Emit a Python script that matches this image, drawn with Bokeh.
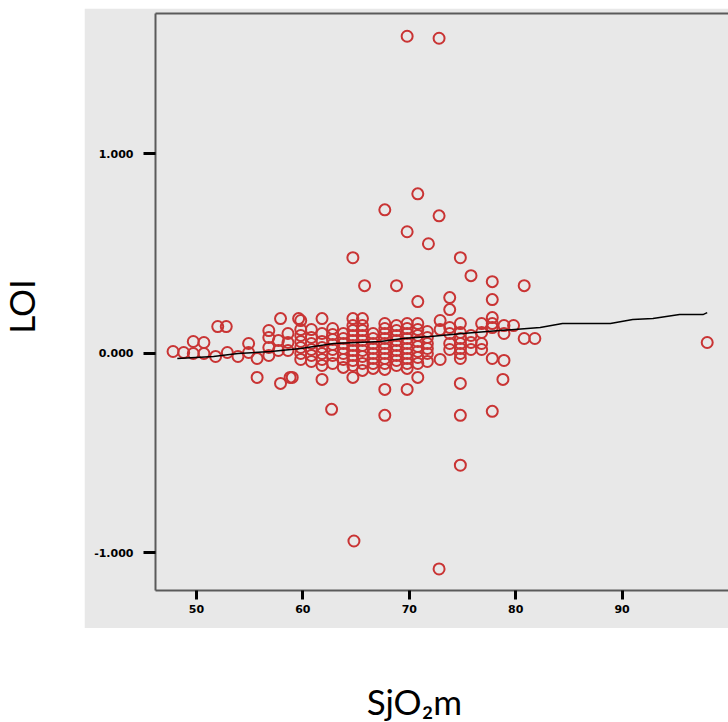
from bokeh.plotting import figure
from bokeh.layouts import row, column
from bokeh.models import Range1d, FixedTicker, LinearAxis, Label
from bokeh.embed import file_html
from bokeh.resources import INLINE
import math

# ---- data ----
sio2 = [
    # left side
    47.8, 48.8, 49.7, 49.7, 50.7, 50.7, 52.0, 52.8, 51.8, 52.9, 53.9, 54.9, 54.9,
    55.7, 55.7, 56.8, 56.8, 56.8, 56.8, 57.9, 57.9, 58.8, 57.7, 57.7, 58.6, 58.6, 58.6,
    59.6,
    # dense band
    59.8, 59.8, 59.8, 59.8, 59.8, 59.8, 59.8,
    60.8, 60.8, 60.8, 60.8, 60.8, 60.8,
    61.8, 61.8, 61.8, 61.8, 61.8, 61.8, 61.8,
    62.8, 62.8, 62.8, 62.8, 62.8, 62.8, 62.8,
    63.8, 63.8, 63.8, 63.8, 63.8, 63.8, 63.8,
    64.7, 64.7, 64.7, 64.7, 64.7, 64.7, 64.7, 64.7, 64.7, 64.7,
    65.6, 65.6, 65.6, 65.6, 65.6, 65.6, 65.6, 65.6, 65.6, 65.6,
    66.6, 66.6, 66.6, 66.6, 66.6, 66.6, 66.6, 66.6,
    67.7, 67.7, 67.7, 67.7, 67.7, 67.7, 67.7, 67.7, 67.7, 67.7,
    68.8, 68.8, 68.8, 68.8, 68.8, 68.8, 68.8, 68.8, 68.8,
    69.8, 69.8, 69.8, 69.8, 69.8, 69.8, 69.8, 69.8, 69.8, 69.8,
    70.8, 70.8, 70.8, 70.8, 70.8, 70.8, 70.8, 70.8,
    71.7, 71.7, 71.7, 71.7, 71.7, 71.7,
    # right cluster
    72.9, 72.9, 72.9, 73.8, 73.8, 73.8, 73.8,
    74.8, 74.8, 74.8, 74.8, 74.8, 74.8, 74.8,
    75.8, 75.8, 75.8, 76.8, 76.8, 76.8, 76.8,
    77.8, 77.8, 77.8, 77.8, 78.9, 78.9, 78.9,
    79.8, 80.8, 81.8,
    # high outliers
    69.8, 72.8, 70.8, 67.7, 72.8, 69.8, 71.8, 64.7, 74.8, 75.8, 65.8, 68.8,
    77.8, 80.8, 73.8, 70.8, 77.8, 73.8,
    # low outliers
    64.8, 72.8, 74.8, 62.7, 67.7, 74.8, 77.8, 67.7, 69.8, 74.8, 78.8, 61.8,
    64.7, 70.8, 59.0,
    # far right
    98.0,
]

loi = [
    0.01, 0.005, 0.06, 0.0, 0.055, 0.0, 0.135, 0.135, -0.015, 0.005, -0.015, 0.05, 0.005,
    -0.025, -0.12, 0.115, 0.08, 0.03, -0.01, 0.175, -0.15, -0.12, 0.065, 0.015, 0.1, 0.055, 0.015,
    0.175,
    0.165, 0.12, 0.09, 0.06, 0.03, 0.0, -0.03,
    0.12, 0.08, 0.05, 0.02, -0.01, -0.04,
    0.175, 0.10, 0.06, 0.03, 0.0, -0.03, -0.06,
    0.125, 0.095, 0.07, 0.045, 0.02, -0.01, -0.05,
    0.10, 0.075, 0.05, 0.025, 0.0, -0.03, -0.07,
    0.175, 0.14, 0.115, 0.09, 0.065, 0.04, 0.015, -0.01, -0.035, -0.06,
    0.175, 0.14, 0.115, 0.09, 0.065, 0.04, 0.015, -0.015, -0.05, -0.085,
    0.10, 0.075, 0.05, 0.025, 0.0, -0.025, -0.05, -0.075,
    0.15, 0.125, 0.10, 0.075, 0.05, 0.025, 0.0, -0.025, -0.05, -0.08,
    0.14, 0.115, 0.09, 0.065, 0.04, 0.015, -0.01, -0.035, -0.06,
    0.15, 0.125, 0.10, 0.075, 0.05, 0.025, 0.0, -0.025, -0.05, -0.075,
    0.15, 0.12, 0.09, 0.06, 0.035, 0.01, -0.02, -0.05,
    0.11, 0.08, 0.05, 0.025, 0.0, -0.04,
    0.165, 0.12, -0.03, 0.13, 0.10, 0.05, 0.02,
    0.15, 0.105, 0.075, 0.05, 0.025, 0.0, -0.025,
    0.09, 0.055, 0.02, 0.15, 0.105, 0.05, 0.02,
    0.18, 0.15, 0.13, -0.025, 0.14, 0.10, -0.035,
    0.14, 0.075, 0.075,
    1.59, 1.58, 0.80, 0.72, 0.69, 0.61, 0.55, 0.48, 0.48, 0.39, 0.34, 0.34,
    0.36, 0.34, 0.28, 0.26, 0.27, 0.22,
    -0.94, -1.08, -0.56, -0.28, -0.31, -0.31, -0.29, -0.18, -0.18, -0.15, -0.13, -0.13,
    -0.12, -0.12, -0.12,
    0.055,
]

fit_x = [48.2, 51.6, 53.9, 57.0, 59.8, 62.9, 65.1, 67.3, 69.4, 72.0, 75.0, 78.5,
         82.3, 84.4, 88.9, 91.0, 92.9, 95.4, 97.6, 98.0]
fit_y = [-0.025, -0.015, 0.0, 0.01, 0.025, 0.05, 0.055, 0.06, 0.075, 0.085, 0.1, 0.115,
         0.13, 0.15, 0.15, 0.17, 0.175, 0.195, 0.195, 0.205]

x_ticks = [50, 60, 70, 80, 90]
y_ticks = [-1, 0, 1]
y_tick_labels = {-1: "-1.000", 0: "0.000", 1: "1.000"}

x_title = "SjO₂m"
y_title = "LOI"

GRAY = "#e8e8e8"
FRAME = "#5a5a5a"

# ---- main plot (the gray panel) ----
p = figure(width=644, height=620, output_backend="svg", toolbar_location=None,
           x_range=Range1d(46.15, 100.0), y_range=Range1d(-1.188, 1.704),
           min_border_left=71, min_border_right=0, min_border_top=5, min_border_bottom=38,
           margin=(8, 0, 0, 0))
p.border_fill_color = GRAY
p.background_fill_color = GRAY
p.outline_line_color = None
p.grid.visible = False

xaxis = p.below[0]
yaxis = p.left[0]

for ax in (xaxis, yaxis):
    ax.axis_line_color = FRAME
    ax.axis_line_width = 2
    ax.major_tick_line_color = "black"
    ax.major_tick_line_width = 3
    ax.major_tick_in = 0
    ax.minor_tick_line_color = None
    ax.major_label_text_font = "DejaVu Sans"
    ax.major_label_text_font_style = "bold"
    ax.major_label_text_font_size = "11px"
    ax.major_label_text_color = "black"

xaxis.ticker = FixedTicker(ticks=x_ticks)
xaxis.major_tick_out = 9
xaxis.major_label_standoff = 5
yaxis.ticker = FixedTicker(ticks=y_ticks)
yaxis.major_label_overrides = y_tick_labels
yaxis.major_tick_out = 12
yaxis.major_label_standoff = 10

# top edge of the frame (no right edge in the reference)
top_axis = LinearAxis(ticker=FixedTicker(ticks=[]), major_tick_out=0, major_tick_in=0,
                      minor_tick_out=0, minor_tick_in=0, major_label_standoff=0,
                      axis_line_color=FRAME, axis_line_width=2,
                      major_tick_line_color=None, minor_tick_line_color=None,
                      major_label_text_font_size="0px")
p.add_layout(top_axis, "above")

p.scatter(sio2, loi, marker="circle", size=11, fill_alpha=0,
          line_color="#c93434", line_width=2)
p.line(fit_x, fit_y, line_color="black", line_width=1.5)


def text_panel(w, h, tx, ty, txt, angle=0.0):
    f = figure(width=w, height=h, output_backend="svg", toolbar_location=None,
               x_range=Range1d(0, w), y_range=Range1d(0, h),
               x_axis_type=None, y_axis_type=None,
               min_border_left=0, min_border_right=0,
               min_border_top=0, min_border_bottom=0)
    f.outline_line_color = None
    f.grid.visible = False
    f.background_fill_color = "white"
    f.border_fill_color = "white"
    f.add_layout(Label(x=tx, y=ty, text=txt, angle=angle,
                       text_align="center", text_baseline="middle",
                       text_font="Lato", text_font_size="35px", text_color="black"))
    return f


left_panel = text_panel(84, 722, 20, 722 - 306, y_title, angle=math.pi / 2)
bottom_panel = text_panel(644, 94, 291, 94 - 72, x_title)

layout = row(left_panel, column(p, bottom_panel, spacing=0), spacing=0)

open("out.html", "w").write(file_html(layout, INLINE))
